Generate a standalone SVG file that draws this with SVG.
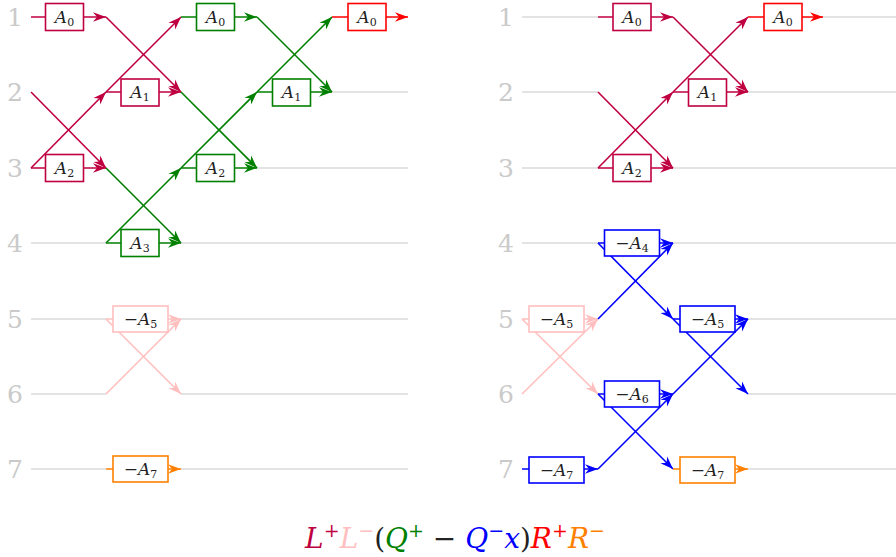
<svg xmlns="http://www.w3.org/2000/svg" width="896" height="557" viewBox="0 0 896 557">
<style>
.g{stroke:#c8c8c8;stroke-width:1.2;fill:none}
.c{fill:none;stroke-width:1.6}
.pu{stroke:#bf0040}.gr{stroke:#008000}.rd{stroke:#ff0000}.pk{stroke:#ffbfbf}.bl{stroke:#0000ff}.or{stroke:#ff8000}
.box{fill:#fff;stroke-width:1.6}
text{font-family:"DejaVu Serif","Liberation Serif","Tinos","Noto Serif","Times New Roman","FreeSerif",Georgia,serif}
.t{font-size:17px;fill:#222;text-anchor:middle}
.i{font-style:italic}
.s{font-size:11px;font-style:normal}
.lbl{font-size:25px;fill:#cacaca;text-anchor:middle}
.cap{font-size:28px;text-anchor:middle}
</style>
<defs>
<marker id="m-pu" markerUnits="userSpaceOnUse" viewBox="-13 -6 14 12" refX="0" refY="0" markerWidth="14" markerHeight="12" orient="auto"><path d="M0,0 L-13,-4.8 L-9,0 L-13,4.8 Z" fill="#bf0040"/></marker>
<marker id="m-gr" markerUnits="userSpaceOnUse" viewBox="-13 -6 14 12" refX="0" refY="0" markerWidth="14" markerHeight="12" orient="auto"><path d="M0,0 L-13,-4.8 L-9,0 L-13,4.8 Z" fill="#008000"/></marker>
<marker id="m-rd" markerUnits="userSpaceOnUse" viewBox="-13 -6 14 12" refX="0" refY="0" markerWidth="14" markerHeight="12" orient="auto"><path d="M0,0 L-13,-4.8 L-9,0 L-13,4.8 Z" fill="#ff0000"/></marker>
<marker id="m-pk" markerUnits="userSpaceOnUse" viewBox="-13 -6 14 12" refX="0" refY="0" markerWidth="14" markerHeight="12" orient="auto"><path d="M0,0 L-13,-4.8 L-9,0 L-13,4.8 Z" fill="#ffbfbf"/></marker>
<marker id="m-bl" markerUnits="userSpaceOnUse" viewBox="-13 -6 14 12" refX="0" refY="0" markerWidth="14" markerHeight="12" orient="auto"><path d="M0,0 L-13,-4.8 L-9,0 L-13,4.8 Z" fill="#0000ff"/></marker>
<marker id="m-or" markerUnits="userSpaceOnUse" viewBox="-13 -6 14 12" refX="0" refY="0" markerWidth="14" markerHeight="12" orient="auto"><path d="M0,0 L-13,-4.8 L-9,0 L-13,4.8 Z" fill="#ff8000"/></marker>
</defs>

<g id="row-labels">
<text class="lbl" x="15" y="26">1</text><text class="lbl" x="15" y="101">2</text><text class="lbl" x="15" y="177">3</text><text class="lbl" x="15" y="252">4</text><text class="lbl" x="15" y="328">5</text><text class="lbl" x="15" y="403">6</text><text class="lbl" x="15" y="478">7</text>
<text class="lbl" x="506" y="26">1</text><text class="lbl" x="506" y="101">2</text><text class="lbl" x="506" y="177">3</text><text class="lbl" x="506" y="252">4</text><text class="lbl" x="506" y="328">5</text><text class="lbl" x="506" y="403">6</text><text class="lbl" x="506" y="478">7</text>
</g>

<g id="wires">
<path class="g" d="M332,92H408 M257,168H408 M31,243H106 M181,243H408 M31,319H106 M181,319H408 M31,394H106 M181,394H408 M31,469H106 M181,469H408"/>
<path class="g" d="M522,17H598 M823,17H896 M522,92H598 M748,92H896 M522,168H598 M673,168H896 M522,243H598 M673,243H896 M748,319H896 M748,394H896 M748,469H896"/>
</g>

<g id="connectors">
<path class="c pu" d="M31,17H106" marker-end="url(#m-pu)"/>
<path class="c pu" d="M106,17L181,92" marker-end="url(#m-pu)"/>
<path class="c pu" d="M31,92L106,168" marker-end="url(#m-pu)"/>
<path class="c pu" d="M106,92H181" marker-end="url(#m-pu)"/>
<path class="c pu" d="M106,92L181,17" marker-end="url(#m-pu)"/>
<path class="c pu" d="M31,168H106" marker-end="url(#m-pu)"/>
<path class="c pu" d="M31,168L106,92" marker-end="url(#m-pu)"/>
<path class="c gr" d="M181,17H257" marker-end="url(#m-gr)"/>
<path class="c gr" d="M257,17L332,92" marker-end="url(#m-gr)"/>
<path class="c gr" d="M181,92L257,168" marker-end="url(#m-gr)"/>
<path class="c gr" d="M257,92H332" marker-end="url(#m-gr)"/>
<path class="c gr" d="M257,92L332,17" marker-end="url(#m-gr)"/>
<path class="c gr" d="M106,168L181,243" marker-end="url(#m-gr)"/>
<path class="c gr" d="M181,168H257" marker-end="url(#m-gr)"/>
<path class="c gr" d="M181,168L257,92" marker-end="url(#m-gr)"/>
<path class="c gr" d="M106,243H181" marker-end="url(#m-gr)"/>
<path class="c gr" d="M106,243L181,168" marker-end="url(#m-gr)"/>
<path class="c rd" d="M332,17H408" marker-end="url(#m-rd)"/>
<path class="c pk" d="M106,319H181" marker-end="url(#m-pk)"/>
<path class="c pk" d="M106,319L181,394" marker-end="url(#m-pk)"/>
<path class="c pk" d="M106,394L181,319" marker-end="url(#m-pk)"/>
<path class="c or" d="M106,469H181" marker-end="url(#m-or)"/>

<path class="c pu" d="M598,17H673" marker-end="url(#m-pu)"/>
<path class="c pu" d="M673,17L748,92" marker-end="url(#m-pu)"/>
<path class="c pu" d="M598,92L673,168" marker-end="url(#m-pu)"/>
<path class="c pu" d="M673,92H748" marker-end="url(#m-pu)"/>
<path class="c pu" d="M673,92L748,17" marker-end="url(#m-pu)"/>
<path class="c pu" d="M598,168H673" marker-end="url(#m-pu)"/>
<path class="c pu" d="M598,168L673,92" marker-end="url(#m-pu)"/>
<path class="c rd" d="M748,17H823" marker-end="url(#m-rd)"/>
<path class="c pk" d="M522,319H598" marker-end="url(#m-pk)"/>
<path class="c pk" d="M522,319L598,394" marker-end="url(#m-pk)"/>
<path class="c pk" d="M522,394L598,319" marker-end="url(#m-pk)"/>
<path class="c bl" d="M598,243H673" marker-end="url(#m-bl)"/>
<path class="c bl" d="M598,243L673,319" marker-end="url(#m-bl)"/>
<path class="c bl" d="M598,319L673,243" marker-end="url(#m-bl)"/>
<path class="c bl" d="M673,319H748" marker-end="url(#m-bl)"/>
<path class="c bl" d="M673,319L748,394" marker-end="url(#m-bl)"/>
<path class="c bl" d="M673,394L748,319" marker-end="url(#m-bl)"/>
<path class="c bl" d="M598,394H673" marker-end="url(#m-bl)"/>
<path class="c bl" d="M598,394L673,469" marker-end="url(#m-bl)"/>
<path class="c bl" d="M522,469H598" marker-end="url(#m-bl)"/>
<path class="c bl" d="M598,469L673,394" marker-end="url(#m-bl)"/>
<path class="c or" d="M673,469H748" marker-end="url(#m-or)"/>
</g>

<g id="L-r1-A0"><rect class="box pu" x="45.5" y="3.5" width="38" height="27"/><text class="t" x="64.5" y="22.5"><tspan class="i">A</tspan><tspan class="s" dy="3">0</tspan></text></g>
<g id="L-r2-A1"><rect class="box pu" x="121" y="79" width="38" height="27"/><text class="t" x="140" y="98"><tspan class="i">A</tspan><tspan class="s" dy="3">1</tspan></text></g>
<g id="L-r3-A2"><rect class="box pu" x="45.5" y="154.5" width="38" height="27"/><text class="t" x="64.5" y="173.5"><tspan class="i">A</tspan><tspan class="s" dy="3">2</tspan></text></g>
<g id="L-r1-A0g"><rect class="box gr" x="196.5" y="3.5" width="38" height="27"/><text class="t" x="215.5" y="22.5"><tspan class="i">A</tspan><tspan class="s" dy="3">0</tspan></text></g>
<g id="L-r2-A1g"><rect class="box gr" x="272.5" y="79" width="38" height="27"/><text class="t" x="291.5" y="98"><tspan class="i">A</tspan><tspan class="s" dy="3">1</tspan></text></g>
<g id="L-r3-A2g"><rect class="box gr" x="196.5" y="154.5" width="38" height="27"/><text class="t" x="215.5" y="173.5"><tspan class="i">A</tspan><tspan class="s" dy="3">2</tspan></text></g>
<g id="L-r4-A3g"><rect class="box gr" x="121" y="229.5" width="38" height="27"/><text class="t" x="140" y="248.5"><tspan class="i">A</tspan><tspan class="s" dy="3">3</tspan></text></g>
<g id="L-r1-A0r"><rect class="box rd" x="348" y="3.5" width="38" height="27"/><text class="t" x="367" y="22.5"><tspan class="i">A</tspan><tspan class="s" dy="3">0</tspan></text></g>
<g id="L-r5-A5p"><rect class="box pk" x="113" y="306" width="55" height="26"/><text class="t" x="140.5" y="324.5">−<tspan class="i">A</tspan><tspan class="s" dy="3">5</tspan></text></g>
<g id="L-r7-A7o"><rect class="box or" x="113" y="456" width="55" height="26"/><text class="t" x="140.5" y="474.5">−<tspan class="i">A</tspan><tspan class="s" dy="3">7</tspan></text></g>

<g id="R-r1-A0"><rect class="box pu" x="613" y="3.5" width="38" height="27"/><text class="t" x="632" y="22.5"><tspan class="i">A</tspan><tspan class="s" dy="3">0</tspan></text></g>
<g id="R-r2-A1"><rect class="box pu" x="688.5" y="79" width="38" height="27"/><text class="t" x="707.5" y="98"><tspan class="i">A</tspan><tspan class="s" dy="3">1</tspan></text></g>
<g id="R-r3-A2"><rect class="box pu" x="613" y="154.5" width="38" height="27"/><text class="t" x="632" y="173.5"><tspan class="i">A</tspan><tspan class="s" dy="3">2</tspan></text></g>
<g id="R-r1-A0r"><rect class="box rd" x="764" y="3.5" width="38" height="27"/><text class="t" x="783" y="22.5"><tspan class="i">A</tspan><tspan class="s" dy="3">0</tspan></text></g>
<g id="R-r5-A5p"><rect class="box pk" x="529" y="306" width="55" height="26"/><text class="t" x="556.5" y="324.5">−<tspan class="i">A</tspan><tspan class="s" dy="3">5</tspan></text></g>
<g id="R-r4-A4b"><rect class="box bl" x="604.5" y="230" width="55" height="26"/><text class="t" x="632" y="248.5">−<tspan class="i">A</tspan><tspan class="s" dy="3">4</tspan></text></g>
<g id="R-r5-A5b"><rect class="box bl" x="680" y="306" width="55" height="26"/><text class="t" x="707.5" y="324.5">−<tspan class="i">A</tspan><tspan class="s" dy="3">5</tspan></text></g>
<g id="R-r6-A6b"><rect class="box bl" x="604.5" y="381" width="55" height="26"/><text class="t" x="632" y="399.5">−<tspan class="i">A</tspan><tspan class="s" dy="3">6</tspan></text></g>
<g id="R-r7-A7b"><rect class="box bl" x="529" y="457" width="55" height="26"/><text class="t" x="556.5" y="475.5">−<tspan class="i">A</tspan><tspan class="s" dy="3">7</tspan></text></g>
<g id="R-r7-A7o"><rect class="box or" x="680" y="457" width="55" height="26"/><text class="t" x="707.5" y="475.5">−<tspan class="i">A</tspan><tspan class="s" dy="3">7</tspan></text></g>

<g id="caption">
<text class="cap" x="455" y="548"><tspan class="i" fill="#bf0040">L</tspan><tspan fill="#bf0040" font-size="19" dy="-11">+</tspan><tspan class="i" fill="#ffbfbf" dy="11">L</tspan><tspan fill="#ffbfbf" font-size="19" dy="-11">−</tspan><tspan fill="#222" dy="11">(</tspan><tspan class="i" fill="#008000">Q</tspan><tspan fill="#008000" font-size="19" dy="-11">+</tspan><tspan fill="#222" dy="11"> − </tspan><tspan class="i" fill="#0000ff">Q</tspan><tspan fill="#0000ff" font-size="19" dy="-11">−</tspan><tspan class="i" fill="#0000ff" dy="11">x</tspan><tspan fill="#222">)</tspan><tspan class="i" fill="#ff0000">R</tspan><tspan fill="#ff0000" font-size="19" dy="-11">+</tspan><tspan class="i" fill="#ff8000" dy="11">R</tspan><tspan fill="#ff8000" font-size="19" dy="-11">−</tspan></text>
</g>
</svg>
